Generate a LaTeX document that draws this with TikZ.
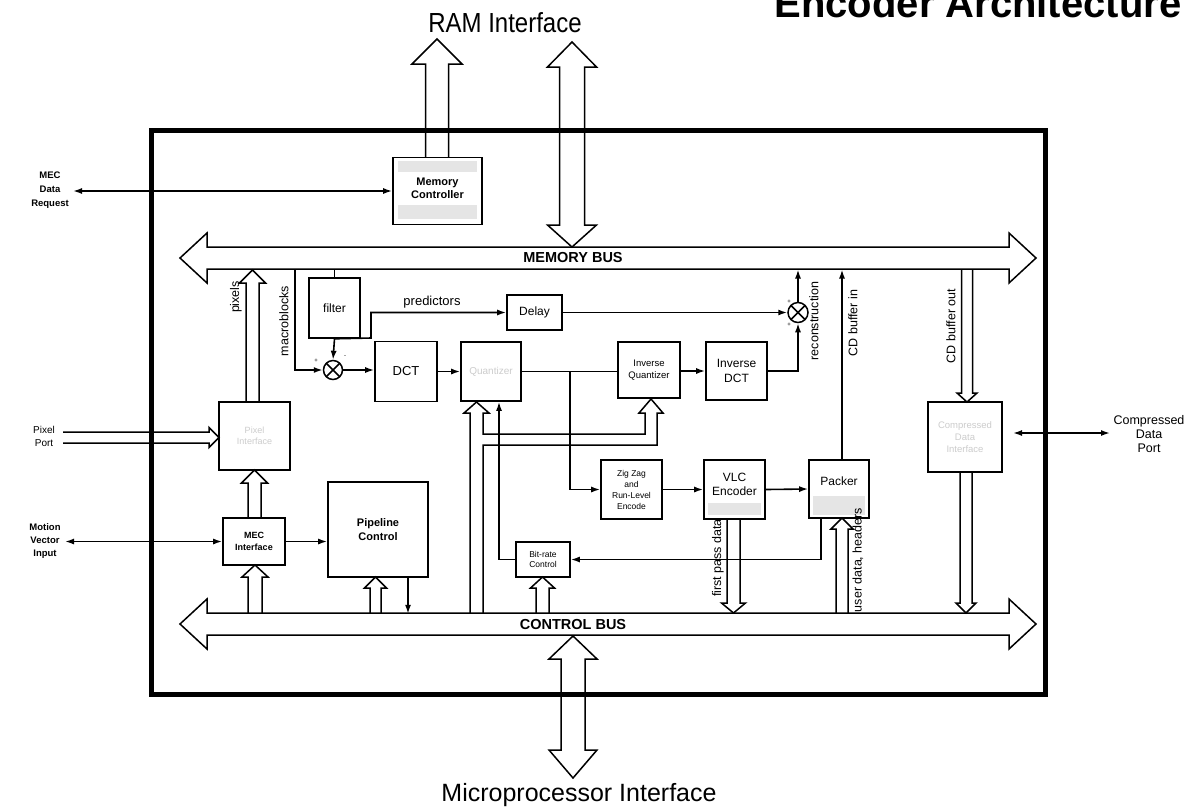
\documentclass[tikz,border=0pt]{standalone}
\usepackage{fontspec}
\setmainfont{Liberation Sans}
\usetikzlibrary{arrows.meta}
\newcommand\fsz[2]{\fontsize{#1}{#2}\selectfont}
% hollow (outline) arrows: x, ystart, ytip, shaft half, head half, head length
\newcommand\HUp[6]{\draw[busline] ({#1-#4},{#2}) -- ({#1-#4},{#3+#6}) -- ({#1-#5},{#3+#6}) -- ({#1},{#3}) -- ({#1+#5},{#3+#6}) -- ({#1+#4},{#3+#6}) -- ({#1+#4},{#2});}
\newcommand\HDown[6]{\draw[busline] ({#1-#4},{#2}) -- ({#1-#4},{#3-#6}) -- ({#1-#5},{#3-#6}) -- ({#1},{#3}) -- ({#1+#5},{#3-#6}) -- ({#1+#4},{#3-#6}) -- ({#1+#4},{#2});}
% x, ytop tip, ybottom tip, shaft half, head half, top head length, bottom head length
\newcommand\HVboth[7]{\draw[busline] ({#1},{#2}) -- ({#1+#5},{#2+#6}) -- ({#1+#4},{#2+#6}) -- ({#1+#4},{#3-#7}) -- ({#1+#5},{#3-#7}) -- ({#1},{#3}) -- ({#1-#5},{#3-#7}) -- ({#1-#4},{#3-#7}) -- ({#1-#4},{#2+#6}) -- ({#1-#5},{#2+#6}) -- cycle;}
% y, xleft tip, xright tip, shaft half, head half, head length
\newcommand\HHboth[6]{\draw[busline] ({#2},{#1}) -- ({#2+#6},{#1-#5}) -- ({#2+#6},{#1-#4}) -- ({#3-#6},{#1-#4}) -- ({#3-#6},{#1-#5}) -- ({#3},{#1}) -- ({#3-#6},{#1+#5}) -- ({#3-#6},{#1+#4}) -- ({#2+#6},{#1+#4}) -- ({#2+#6},{#1+#5}) -- cycle;}
% y, xstart, xtip, shaft half, head half, head length
\newcommand\HRight[6]{\draw[busline] ({#2},{#1-#4}) -- ({#3-#6},{#1-#4}) -- ({#3-#6},{#1-#5}) -- ({#3},{#1}) -- ({#3-#6},{#1+#5}) -- ({#3-#6},{#1+#4}) -- ({#2},{#1+#4});}

\tikzset{
  blk/.style={draw, line width=1.6pt, inner sep=0pt, align=center},
  conn/.style={line width=1.6pt},
  arr/.style={conn, -{Latex[length=9pt,width=6pt]}},
  darr/.style={conn, {Latex[length=9pt,width=6pt]}-{Latex[length=9pt,width=6pt]}},
  busline/.style={line width=1.5pt, line join=miter},
  rlab/.style={rotate=90, inner sep=0pt},
  faint/.style={text=gray!40},
  stip/.style={fill=gray!20, draw=none},
  mult/.style={circle, draw, line width=1.5pt, minimum size=19pt, inner sep=0pt,
    path picture={\draw[line width=1.5pt] (path picture bounding box.north west) -- (path picture bounding box.south east) (path picture bounding box.north east) -- (path picture bounding box.south west);}},
}

\begin{document}
\begin{tikzpicture}[x=1pt,y=-1pt]
\useasboundingbox (0,0) rectangle (1196,807);
\clip (0,0) rectangle (1196,807);
\fill[white] (0,0) rectangle (1196,807);

% outer frame
\draw[line width=5pt] (151,130) rectangle (1045,694);

% titles
\node[anchor=base, inner sep=0pt] (title) at (978,17) {\fsz{40}{41}\bfseries Encoder Architecture};
\node[inner sep=0pt] (ram) at (505,23) {\scalebox{1}[1.15]{\fsz{24}{25}RAM Interface}};
\node[anchor=base, inner sep=0pt] (mpi) at (579,801) {\fsz{25}{26}Microprocessor Interface};

% buses
\HHboth{258}{180}{1036}{11}{25}{27}
\HHboth{624}{180}{1036}{11}{25}{27}
\node[font=\bfseries\fsz{14.5}{15}] (mbus) at (573,258) {MEMORY BUS};
\node[font=\bfseries\fsz{14.5}{15}] (cbus) at (573,624) {CONTROL BUS};

% blocks
\node[blk, minimum width=89pt, minimum height=67pt] (mc) at (437.5,191) {};
\fill[stip] (398,161) rectangle (477,172);
\fill[stip] (398,205) rectangle (477,219);
\node[font=\bfseries\fsz{11}{13}, align=center] at (437.5,188) {Memory\\Controller};

\node[blk, minimum width=51pt, minimum height=60pt, font=\fsz{12}{13}] (filter) at (334.5,308) {filter};
\node[blk, minimum width=55pt, minimum height=35pt, font=\fsz{12}{13}] (delay) at (534.5,312.5) {Delay};
\node[blk, minimum width=62pt, minimum height=60pt, font=\fsz{13}{14}] (dct) at (406,371.5) {DCT};
\node[blk, minimum width=60pt, minimum height=59pt, font=\fsz{10}{11}, faint] (quant) at (491,371.5) {Quantizer};
\node[blk, minimum width=62pt, minimum height=56pt, font=\fsz{9.5}{12}] (iq) at (649,370) {Inverse\\Quantizer};
\node[blk, minimum width=61pt, minimum height=58pt, font=\fsz{12}{15}] (idct) at (736.5,371) {Inverse\\DCT};
\node[blk, minimum width=61pt, minimum height=59pt, font=\fsz{8.5}{11}] (zz) at (631.5,489.5) {Zig Zag\\and\\Run-Level\\Encode};
\node[blk, minimum width=61pt, minimum height=59pt] (vlc) at (734.5,489.5) {};
\fill[stip] (708,503) rectangle (761,515);
\node[font=\fsz{12}{14}, align=center] at (734.5,484) {VLC\\Encoder};
\node[blk, minimum width=60pt, minimum height=58pt] (packer) at (839,489) {};
\fill[stip] (813,496) rectangle (865,515);
\node[font=\fsz{12}{14}] at (839,481) {Packer};
\node[blk, minimum width=54pt, minimum height=35pt, font=\fsz{8.5}{10}] (brc) at (543,559.5) {Bit-rate\\Control};
\node[blk, minimum width=100pt, minimum height=95pt, font=\bfseries\fsz{11}{14}] (pipe) at (378,529.5) {Pipeline\\Control};
\node[blk, minimum width=62pt, minimum height=47pt, font=\bfseries\fsz{9}{12}] (mec) at (254,541.5) {MEC\\Interface};
\node[blk, minimum width=71pt, minimum height=68pt, font=\fsz{9}{11}, faint] (pix) at (254.5,436) {Pixel\\Interface};
\node[blk, minimum width=74pt, minimum height=70pt, font=\fsz{9.5}{12}, faint] (cdi) at (965,437) {Compressed\\Data\\Interface};

\node[mult] (m1) at (333,370) {};
\node[mult, minimum size=20pt] (m2) at (798,312.5) {};
\node[font=\fsz{6}{6}, inner sep=0pt] at (316,361) {+};
\node[font=\fsz{6}{6}, inner sep=0pt] at (345,357) {-};
\node[font=\fsz{6}{6}, inner sep=0pt] at (789,302) {+};
\node[font=\fsz{6}{6}, inner sep=0pt] at (789,325) {+};

% RAM and microprocessor interface arrows
\HUp{437}{157.5}{39}{11.5}{25}{25}
\HVboth{572}{42}{247}{12.5}{24.5}{25}{22}
\HVboth{573}{636}{778}{12}{24}{23}{28}

% outside ports
\coordinate (mdrEnd) at (73,191);
\draw[darr] (mdrEnd) -- (mc.west);
\node[font=\bfseries\fsz{9.5}{14}, align=center] (mdrLab) at (50,190) {MEC\\Data\\Request};

\HRight{437.5}{63}{219}{5.5}{10}{10}
\node[font=\fsz{10}{13}, align=center] (ppLab) at (44,436) {Pixel\\Port};

\coordinate (mviEnd) at (65,541.5);
\draw[darr] (mviEnd) -- (mec.west);
\node[font=\bfseries\fsz{9.5}{13}, align=center] (mviLab) at (45,541) {Motion\\Vector\\Input};

\coordinate (cdpA) at (1013,433);
\coordinate (cdpB) at (1110,433);
\draw[darr] (cdpA) -- (cdpB);
\node[font=\fsz{12.5}{14}, align=center] (cdpLab) at (1149,434) {Compressed\\Data\\Port};

% hollow data paths
\HUp{252.5}{402}{270}{6.5}{13}{13}
\HUp{254.5}{518}{470}{6.5}{13}{13}
\HUp{255}{613}{565}{7}{13}{12}
\HUp{375.5}{613}{577}{5.5}{11}{11}
\HUp{542.5}{613}{577}{6.5}{12}{11}
\HDown{733.5}{519}{613}{6.5}{12}{10}
\HUp{842}{613}{518}{6}{11}{11}
\HDown{967}{269.5}{402}{5.5}{10}{9}
\HDown{966}{472}{613}{6}{10}{10}
% control bus to quantizer and inverse quantizer
\draw[busline] (470,613) -- (470,413) -- (464,413) -- (476.5,402) -- (489,413) -- (483,413) -- (483,434) -- (645,434) -- (645,413) -- (639,413) -- (651,399) -- (663,413) -- (657,413) -- (657,445) -- (483,445) -- (483,613);

% thin connectors
\coordinate (mbTap) at (295,269.5);
\draw[arr] (mbTap) |- (m1.west);
\coordinate (fTap) at (334.5,269.5);
\draw[conn] (fTap) -- (filter.north);
\draw[arr] (filter.south) -- (m1.north);
\draw[arr] (filter.south) -- (371,338) -- (371,312.5) -- (delay.west);
\draw[arr] (m1.east) -- (dct.west |- m1.east);
\draw[arr] (dct.east) -- (quant.west);
\draw[conn] (quant.east) -- (iq.west |- quant.east);
\coordinate (br) at (570,371.5);
\draw[arr] (br) |- (zz.west);
\draw[arr] (iq.east |- idct.west) -- (idct.west);
\draw[arr] (idct.east) -| (m2.south);
\draw[arr] (delay.east) -- (m2.west);
\coordinate (recTap) at (798,269.5);
\draw[arr] (m2.north) -- (recTap);
\coordinate (cdinTap) at (842,269.5);
\draw[arr] (packer.north -| cdinTap) -- (cdinTap);
\draw[arr] (zz.east) -- (vlc.west);
\draw[arr] (vlc.east) -- (packer.west);
\draw[arr] ([xshift=-18pt]packer.south) |- (brc.east);
\draw[arr] (brc.west) -| ([xshift=8pt]quant.south);
\draw[arr] ([xshift=30pt]pipe.south) -- ++(0,36);
\draw[arr] (mec.east) -- (pipe.west |- mec.east);

% labels
\node[font=\fsz{13}{14}] (predLab) at (432,302) {predictors};
\node[rlab, font=\fsz{12.5}{13}] (pixLab) at (236,297) {pixels};
\node[rlab, font=\fsz{12.5}{13}] (mbLab) at (284,321) {macroblocks};
\node[rlab, font=\fsz{12.5}{13}] (recLab) at (814,321) {reconstruction};
\node[rlab, font=\fsz{12.5}{13}] (cdinLab) at (853,323) {CD buffer in};
\node[rlab, font=\fsz{12.5}{13}] (cdoutLab) at (951,326) {CD buffer out};
\node[rlab, font=\fsz{12.5}{13}] (fpLab) at (718,558) {first pass data};
\node[rlab, font=\fsz{12.5}{13}] (udLab) at (858,560) {user data, headers};
\end{tikzpicture}
\end{document}
